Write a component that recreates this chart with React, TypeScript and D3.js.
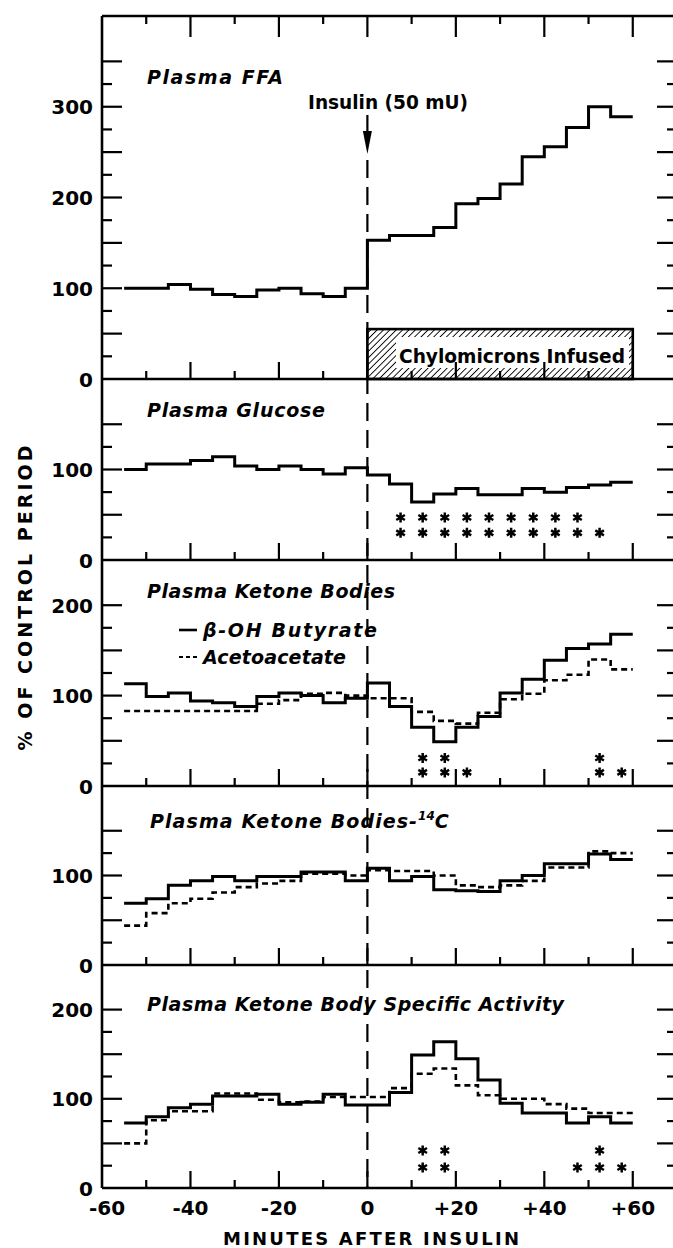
import React from 'react';
import * as d3 from 'd3';

// step starts (min after insulin); every step lasts 5 min, the last one ends at +60
const minutes = [-55, -50, -45, -40, -35, -30, -25, -20, -15, -10, -5, 0, 5, 10, 15, 20, 25, 30, 35, 40, 45, 50, 55];
const lastMinute = 60;

const ffa = [100, 100, 104, 99, 93, 91, 98, 100, 94, 91, 100, 153, 158, 158, 167, 193, 199, 215, 245, 256, 277, 300, 289];
const glucose = [100, 106, 106, 110, 114, 104, 100, 104, 100, 95, 102, 94, 84, 64, 73, 79, 72, 72, 79, 75, 80, 83, 86];
const butyrate = [113, 99, 103, 94, 92, 88, 99, 103, 100, 92, 97, 114, 88, 65, 49, 65, 77, 103, 118, 139, 152, 157, 168];
const acetoacetate = [83, 83, 83, 83, 83, 83, 91, 95, 102, 103, 100, 97, 97, 82, 72, 69, 81, 96, 102, 117, 123, 140, 129];
const butyrate14C = [69, 74, 89, 94, 99, 94, 99, 99, 104, 104, 94, 108, 94, 99, 84, 83, 82, 94, 100, 113, 113, 124, 118];
const acetoacetate14C = [44, 58, 69, 74, 81, 87, 91, 94, 102, 102, 100, 106, 105, 105, 100, 89, 87, 89, 94, 109, 109, 127, 125];
const butyrateSA = [73, 80, 90, 94, 103, 103, 105, 94, 96, 105, 93, 93, 107, 149, 164, 145, 121, 95, 84, 84, 73, 80, 73];
const acetoacetateSA = [50, 76, 86, 86, 106, 106, 99, 96, 97, 102, 102, 102, 112, 128, 134, 115, 104, 100, 100, 94, 89, 84, 84];

// significance marks: [minute, number of asterisks]
const glucoseStars = [[7.5, 2], [12.5, 2], [17.5, 2], [22.5, 2], [27.5, 2], [32.5, 2], [37.5, 2], [42.5, 2], [47.5, 2], [52.5, 1]];
const ketoneStars = [[12.5, 2], [17.5, 2], [22.5, 1], [52.5, 2], [57.5, 1]];
const specificStars = [[12.5, 2], [17.5, 2], [47.5, 1], [52.5, 2], [57.5, 1]];

const xTickValues = [-60, -40, -20, 0, 20, 40, 60];
const xTickLabels = ['-60', '-40', '-20', '0', '+20', '+40', '+60'];

const panels = [
  { title: 'Plasma FFA', max: 400, labels: [0, 100, 200, 300], solid: ffa, dashed: null, stars: [] },
  { title: 'Plasma Glucose', max: 200, labels: [0, 100], solid: glucose, dashed: null, stars: glucoseStars },
  { title: 'Plasma Ketone Bodies', max: 250, labels: [0, 100, 200], solid: butyrate, dashed: acetoacetate, stars: ketoneStars },
  { title: 'Plasma Ketone Bodies-', max: 200, labels: [0, 100], solid: butyrate14C, dashed: acetoacetate14C, stars: [] },
  { title: 'Plasma Ketone Body Specific Activity', max: 250, labels: [0, 100, 200], solid: butyrateSA, dashed: acetoacetateSA, stars: specificStars },
];

// layout
const W = 673;
const H = 1248;
const edges = [16, 379, 560, 786, 965, 1188];
const titleY = [84, 417, 598, 828, 1011];
const titleLen = [136, 178, 248, 267, 417];
const starRows = [[0, 0], [30, 47], [15, 31], [0, 0], [23, 42]];
const sans = "'DejaVu Sans', 'Liberation Sans', Arial, sans-serif";

const x = d3.scaleLinear().domain([-60, 70]).range([102, 677]);
const minorX = [-50, -40, -30, -20, -10, 0, 10, 20, 30, 40, 50, 60];

function Star({ cx, cy }) {
  const r = 5;
  const c = r * Math.cos(Math.PI / 6);
  const s = r * Math.sin(Math.PI / 6);
  return (
    <path
      d={`M${cx},${cy - r}L${cx},${cy + r}M${cx - c},${cy - s}L${cx + c},${cy + s}M${cx - c},${cy + s}L${cx + c},${cy - s}`}
      stroke="#000" strokeWidth={2.5} />
  );
}

function Panel({ p, i }) {
  const y = d3.scaleLinear().domain([0, p.max]).range([edges[i + 1], edges[i]]);
  const step = d3.line().x(d => x(d[0])).y(d => y(d[1])).curve(d3.curveStepAfter);
  const pts = vals => minutes.map((m, k) => [m, vals[k]]).concat([[lastMinute, vals[vals.length - 1]]]);
  const yTicks = d3.range(25, p.max - 50 + 1, 25);
  const bottom = edges[i + 1];

  return (
    <g>
      {/* panel floor with upward ticks */}
      <line x1={x(-60)} x2={x(70)} y1={bottom} y2={bottom} stroke="#000" strokeWidth={2.5} />
      {minorX.map(t => (
        <line key={t} x1={x(t)} x2={x(t)} y1={bottom} y2={bottom - (t % 20 === 0 ? 17 : 8)} stroke="#000" strokeWidth={2.2} />
      ))}
      {yTicks.map(v => (
        <g key={v}>
          <line x1={x(-60)} x2={x(-60) + (v % 50 === 0 ? 20 : 10)} y1={y(v)} y2={y(v)} stroke="#000" strokeWidth={2.2} />
          <line x1={x(70)} x2={x(70) - (v % 50 === 0 ? 20 : 10)} y1={y(v)} y2={y(v)} stroke="#000" strokeWidth={2.2} />
        </g>
      ))}
      {p.labels.map(v => (
        <text key={v} x={93} y={y(v) + 7.5} textAnchor="end" fontFamily={sans} fontWeight="bold" fontSize={20}>{v}</text>
      ))}

      {i === 3 ? (
        <text x={150} y={titleY[i]} fontFamily={sans} fontWeight="bold" fontStyle="italic" fontSize={19}>
          <tspan textLength={titleLen[i]} lengthAdjust="spacing">{p.title}</tspan>
          <tspan dy={-8} fontSize={12}>14</tspan>
          <tspan dy={8}>C</tspan>
        </text>
      ) : (
        <text x={147} y={titleY[i]} fontFamily={sans} fontWeight="bold" fontStyle="italic" fontSize={19}
          textLength={titleLen[i]} lengthAdjust="spacing">{p.title}</text>
      )}

      {p.dashed && (
        <path d={step(pts(p.dashed))} fill="none" stroke="#000" strokeWidth={2.6} strokeDasharray="6 4" />
      )}
      <path d={step(pts(p.solid))} fill="none" stroke="#000" strokeWidth={3} />

      {p.stars.map(([m, n]) => d3.range(n).map(k => (
        <Star key={`${m}-${k}`} cx={x(m)} cy={y(starRows[i][k])} />
      )))}
    </g>
  );
}

export default function App() {
  const yFfa = d3.scaleLinear().domain([0, 400]).range([edges[1], edges[0]]);
  const x0 = x(0);
  const boxTop = yFfa(55);

  return (
    <div style={{ position: 'absolute', left: 0, top: 0 }}>
      <svg width={W} height={H} viewBox={`0 0 ${W} ${H}`} style={{ display: 'block', background: '#fff' }}>
        <defs>
          <pattern id="hatch" width={4.5} height={4.5} patternUnits="userSpaceOnUse" patternTransform="rotate(45)">
            <line x1={0} y1={0} x2={0} y2={4.5} stroke="#000" strokeWidth={1.8} />
          </pattern>
        </defs>
        <rect width={W} height={H} fill="#fff" />

        {/* chylomicron infusion bar */}
        <rect x={x0} y={boxTop} width={x(60) - x0} height={edges[1] - boxTop} fill="url(#hatch)" stroke="#000" strokeWidth={2.6} />
        <rect x={396} y={337} width={233} height={31} fill="#fff" />
        <text x={399} y={363} fontFamily={sans} fontWeight="bold" fontSize={19}
          textLength={226} lengthAdjust="spacingAndGlyphs">Chylomicrons Infused</text>

        {panels.map((p, i) => <Panel key={i} p={p} i={i} />)}

        {/* frame: left axis and top */}
        <line x1={x(-60)} x2={x(-60)} y1={edges[0]} y2={edges[5]} stroke="#000" strokeWidth={2.6} />
        <line x1={x(-60)} x2={x(70)} y1={edges[0]} y2={edges[0]} stroke="#000" strokeWidth={2.5} />
        {minorX.map(t => (
          <line key={t} x1={x(t)} x2={x(t)} y1={edges[0]} y2={edges[0] + (t % 20 === 0 ? 21 : 8)} stroke="#000" strokeWidth={2.2} />
        ))}

        {/* insulin injection marker */}
        <text x={308} y={109} fontFamily={sans} fontSize={19} fontWeight={600}
          textLength={160} lengthAdjust="spacingAndGlyphs">Insulin (50 mU)</text>
        <line x1={x0} x2={x0} y1={115} y2={140} stroke="#000" strokeWidth={2.2} />
        <path d={`M${x0 - 4.5},${131}L${x0 + 4.5},${131}L${x0},${154}Z`} fill="#000" />
        <line x1={x0} x2={x0} y1={160} y2={edges[5]} stroke="#000" strokeWidth={2.2} strokeDasharray="18 9" />

        {/* legend of ketone panel */}
        <line x1={179} x2={197} y1={630} y2={630} stroke="#000" strokeWidth={2.6} />
        <text x={203} y={637} fontFamily={sans} fontWeight="bold" fontStyle="italic" fontSize={19}
          textLength={174} lengthAdjust="spacing">β-OH Butyrate</text>
        <line x1={179} x2={198} y1={657} y2={657} stroke="#000" strokeWidth={2.2} strokeDasharray="4 3" />
        <text x={203} y={664} fontFamily={sans} fontWeight="bold" fontStyle="italic" fontSize={19}
          textLength={143} lengthAdjust="spacing">Acetoacetate</text>

        {/* x axis labels */}
        {xTickValues.map((t, k) => (
          <text key={t} x={x(t) + (t === -60 ? 5 : 0)} y={1215} textAnchor="middle" fontFamily={sans} fontWeight="bold" fontSize={20}>
            {xTickLabels[k]}
          </text>
        ))}
        <text x={371} y={1245} textAnchor="middle" fontFamily={sans} fontWeight="bold" fontSize={18}
          textLength={296} lengthAdjust="spacing">MINUTES AFTER INSULIN</text>

        <text transform="translate(32,598) rotate(-90)" textAnchor="middle" fontFamily={sans} fontWeight="bold" fontSize={19}
          textLength={305} lengthAdjust="spacing">% OF CONTROL PERIOD</text>
      </svg>
    </div>
  );
}
